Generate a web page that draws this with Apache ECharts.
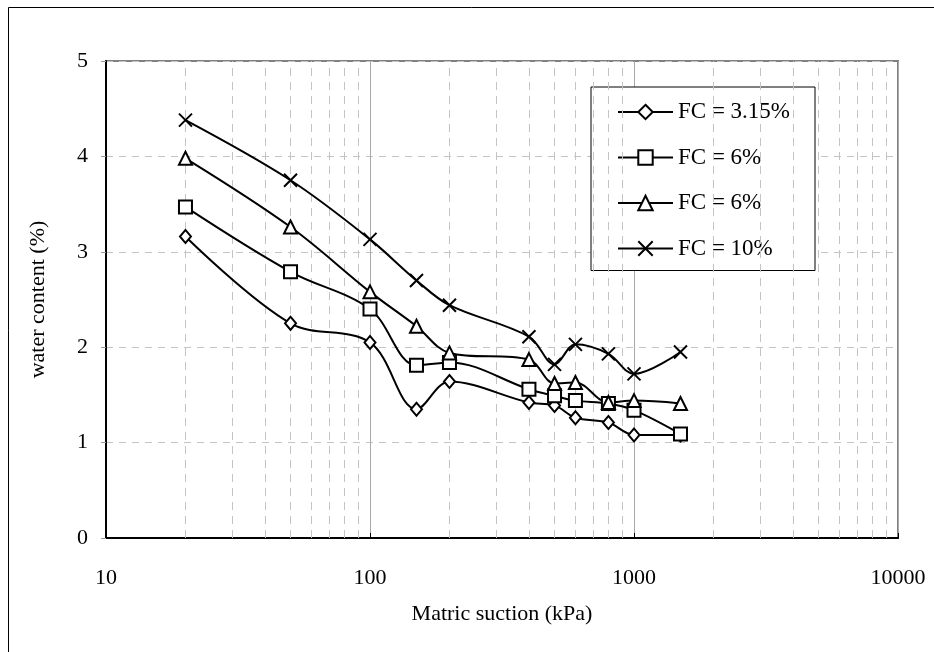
<!DOCTYPE html>
<html>
<head>
<meta charset="utf-8">
<script src="https://cdn.jsdelivr.net/npm/echarts@6/dist/echarts.min.js"></script>
<style>
html,body{margin:0;padding:0;background:#fff;}
#chart{width:934px;height:652px;}
</style>
</head>
<body>
<div id="chart"></div>
<script>
// ---- data ----
const suction = [20, 50, 100, 150, 200, 400, 500, 600, 800, 1000, 1500];
const fc315 = [3.16, 2.25, 2.05, 1.35, 1.64, 1.42, 1.39, 1.26, 1.21, 1.08, 1.08];
const fc6a  = [3.47, 2.79, 2.40, 1.81, 1.84, 1.56, 1.49, 1.44, 1.41, 1.34, 1.09];
const fc6b  = [3.98, 3.26, 2.58, 2.22, 1.94, 1.87, 1.62, 1.63, 1.42, 1.44, 1.41];
const fc10  = [4.38, 3.75, 3.13, 2.70, 2.44, 2.11, 1.82, 2.03, 1.93, 1.72, 1.95];
const seriesNames = ['FC = 3.15%', 'FC = 6% (a)', 'FC = 6% (b)', 'FC = 10%'];
const xTickLabels = ['10', '100', '1000', '10000'];
const yTickLabels = ['0', '1', '2', '3', '4', '5'];
const minorGridX = [20, 30, 40, 50, 60, 70, 80, 90,
                    200, 300, 400, 500, 600, 700, 800, 900,
                    2000, 3000, 4000, 5000, 6000, 7000, 8000, 9000];

const pair = ys => suction.map((x, i) => [x, ys[i]]);
const FONT = 'Liberation Serif';
const crossPath = 'path://M0,0L10,10M10,0L0,10';

const mkSeries = (name, ys, symbol, size) => ({
  name: name,
  type: 'line',
  data: pair(ys),
  smooth: 0.35,
  symbol: symbol,
  symbolSize: size,
  z: 5,
  lineStyle: { color: '#000', width: 2 },
  itemStyle: { color: '#000', borderColor: '#000', borderWidth: 2 },
  emphasis: { disabled: true }
});

const chart = echarts.init(document.getElementById('chart'), null, { renderer: 'canvas' });
chart.setOption({
  backgroundColor: '#fff',
  animation: false,
  graphic: [{
    type: 'rect',
    shape: { x: 8.5, y: 7.5, width: 1000, height: 1000 },
    style: { fill: 'none', stroke: '#000', lineWidth: 1 },
    z: 0
  }],
  grid: {
    left: 106, top: 61, right: 36, bottom: 114,
    show: true, borderColor: '#808080', borderWidth: 2, backgroundColor: '#fff'
  },
  legend: {
    data: seriesNames,
    orient: 'vertical',
    left: 591, top: 87,
    padding: [13, 25, 10, 26],
    itemWidth: 55, itemHeight: 18, itemGap: 21.5,
    backgroundColor: '#fff',
    borderColor: '#000', borderWidth: 1,
    formatter: n => n.replace(/ \([ab]\)$/, ''),
    textStyle: { fontFamily: FONT, fontSize: 23, color: '#000', lineHeight: 24 },
    selectedMode: false
  },
  xAxis: {
    type: 'log', logBase: 10, min: 10, max: 10000,
    name: 'Matric suction (kPa)', nameLocation: 'middle', nameGap: 65,
    nameTextStyle: { fontFamily: FONT, fontSize: 22, color: '#000' },
    axisLine: { show: true, onZero: false, lineStyle: { color: '#000', width: 2 } },
    axisTick: { show: true, inside: true, length: 5, lineStyle: { color: '#000' } },
    axisLabel: {
      fontFamily: FONT, fontSize: 22, color: '#000', margin: 29,
      formatter: v => xTickLabels[Math.round(Math.log10(v)) - 1]
    },
    splitLine: { show: true, lineStyle: { color: '#a8a8a8', width: 1 } }
  },
  yAxis: {
    type: 'value', min: 0, max: 5, interval: 1,
    name: 'water content (%)', nameLocation: 'middle', nameGap: 57, nameRotate: 90,
    nameTextStyle: { fontFamily: FONT, fontSize: 22, color: '#000' },
    axisLine: { show: true, lineStyle: { color: '#000', width: 2 } },
    axisTick: { show: true, length: 5, lineStyle: { color: '#999' } },
    axisLabel: {
      fontFamily: FONT, fontSize: 22, color: '#000', margin: 18,
      formatter: v => yTickLabels[Math.round(v)]
    },
    splitLine: { show: true, lineStyle: { color: '#c4c4c4', width: 1, type: [7, 6] } }
  },
  series: [
    {
      name: 'grid-minor', type: 'line', data: [], z: 1, silent: true,
      markLine: {
        silent: true, symbol: 'none', animation: false,
        label: { show: false },
        lineStyle: { color: '#c4c4c4', width: 1, type: [8, 6] },
        data: minorGridX.map(v => ({ xAxis: v }))
      }
    },
    mkSeries(seriesNames[0], fc315, 'emptyDiamond', [11, 13]),
    mkSeries(seriesNames[1], fc6a, 'emptyRect', 13),
    mkSeries(seriesNames[2], fc6b, 'emptyTriangle', 13),
    mkSeries(seriesNames[3], fc10, crossPath, 13)
  ]
});
</script>
</body>
</html>
